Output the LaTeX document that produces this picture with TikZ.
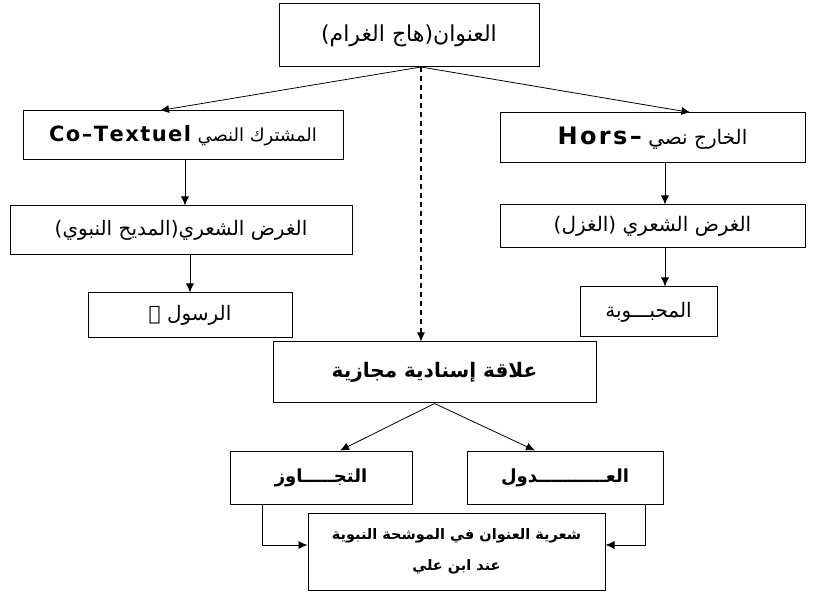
\documentclass[tikz,border=0pt]{standalone}
\usepackage{fontspec}
\setmainfont{Liberation Serif}
\newfontfamily\arabicfont[Script=Arabic]{DejaVu Sans}
\TeXXeTstate=1
\usetikzlibrary{arrows.meta}

\newcommand{\artxt}[1]{{\arabicfont\beginR #1\endR}}

\begin{document}
\begin{tikzpicture}[x=1pt,y=-1pt,
    box/.style={draw,line width=1pt,inner sep=0pt,align=center,
      font=\fontsize{20}{24}\selectfont},
    link/.style={line width=0.8pt,-{Latex[length=9pt,width=8pt]}}]
  \useasboundingbox (0,0) rectangle (815,596);

  % title
  \node[box,minimum width=260pt,minimum height=63pt,font=\fontsize{22}{24}\selectfont]
    (title) at (409,35.5) {\artxt{العنوان(هاج الغرام)}};
  \coordinate (hub) at (421,67);

  % left branch
  \node[box,minimum width=320pt,minimum height=49pt] (cotext) at (183,135.5)
    {\artxt{{\fontsize{18}{24}\selectfont المشترك النصي} \beginL{\addfontfeatures{LetterSpace=7}\fontsize{21}{24}\selectfont\bfseries Co–Textuel}\endL}};
  \node[box,minimum width=342pt,minimum height=49pt] (madih) at (181,230.5)
    {\artxt{الغرض الشعري(المديح النبوي)}};
  \node[box,minimum width=204pt,minimum height=45pt] (rasul) at (190,315.5)
    {\artxt{الرسول ﷺ}};

  % right branch
  \node[box,minimum width=305pt,minimum height=50pt] (hors) at (652.5,138)
    {\artxt{الخارج نصي \beginL{\addfontfeatures{LetterSpace=10}\fontsize{24}{24}\selectfont\bfseries Hors–}\endL}};
  \node[box,minimum width=305pt,minimum height=43pt] (ghazal) at (652.5,226.5)
    {\artxt{الغرض الشعري (الغزل)}};
  \node[box,minimum width=137pt,minimum height=50pt] (mahbub) at (648.5,312)
    {\artxt{المحبـــوبة}};

  % middle
  \node[box,minimum width=323pt,minimum height=61pt,
    font=\fontsize{20}{24}\selectfont\bfseries] (alaqa) at (434.5,372.5)
    {\artxt{علاقة إسنادية مجازية}};
  \node[box,minimum width=182pt,minimum height=53pt,font=\fontsize{18}{24}\selectfont\bfseries]
    (tajawuz) at (321,477.5) {\artxt{التجـــــاوز}};
  \node[box,minimum width=196pt,minimum height=53pt,font=\fontsize{18}{24}\selectfont\bfseries]
    (udul) at (565,477.5) {\artxt{العـــــــــــدول}};
  \node[box,minimum width=297pt,minimum height=77pt,font=\fontsize{14.5}{31}\selectfont\bfseries]
    (shiria) at (456.5,551.5)
    {\artxt{شعرية العنوان في الموشحة النبوية}\\\artxt{عند ابن علي}};

  \draw[link] (hub) -- ([xshift=-23pt]cotext.north);
  \draw[link] (hub) -- ([xshift=38pt]hors.north);
  \draw[link,line width=1.2pt,dash pattern=on 5pt off 4pt] (hub) -- (hub |- alaqa.north);

  \draw[link] ([xshift=2pt]cotext.south) -- ([xshift=2pt]cotext.south |- madih.north);
  \draw[link] (madih.south -| rasul.north) -- (rasul.north);
  \draw[link] ([xshift=12.5pt]hors.south) -- ([xshift=12.5pt]hors.south |- ghazal.north);
  \draw[link] ([xshift=12.5pt]ghazal.south) -- ([xshift=12.5pt]ghazal.south |- mahbub.north);

  \draw[link] (alaqa.south) -- ([xshift=19pt]tajawuz.north);
  \draw[link] (alaqa.south) -- ([xshift=-30pt]udul.north);

  \draw[link] ([xshift=-59pt]tajawuz.south) |- ([yshift=6.5pt]shiria.west);
  \draw[link] ([xshift=80pt]udul.south) |- ([yshift=6.5pt]shiria.east);
\end{tikzpicture}
\end{document}
